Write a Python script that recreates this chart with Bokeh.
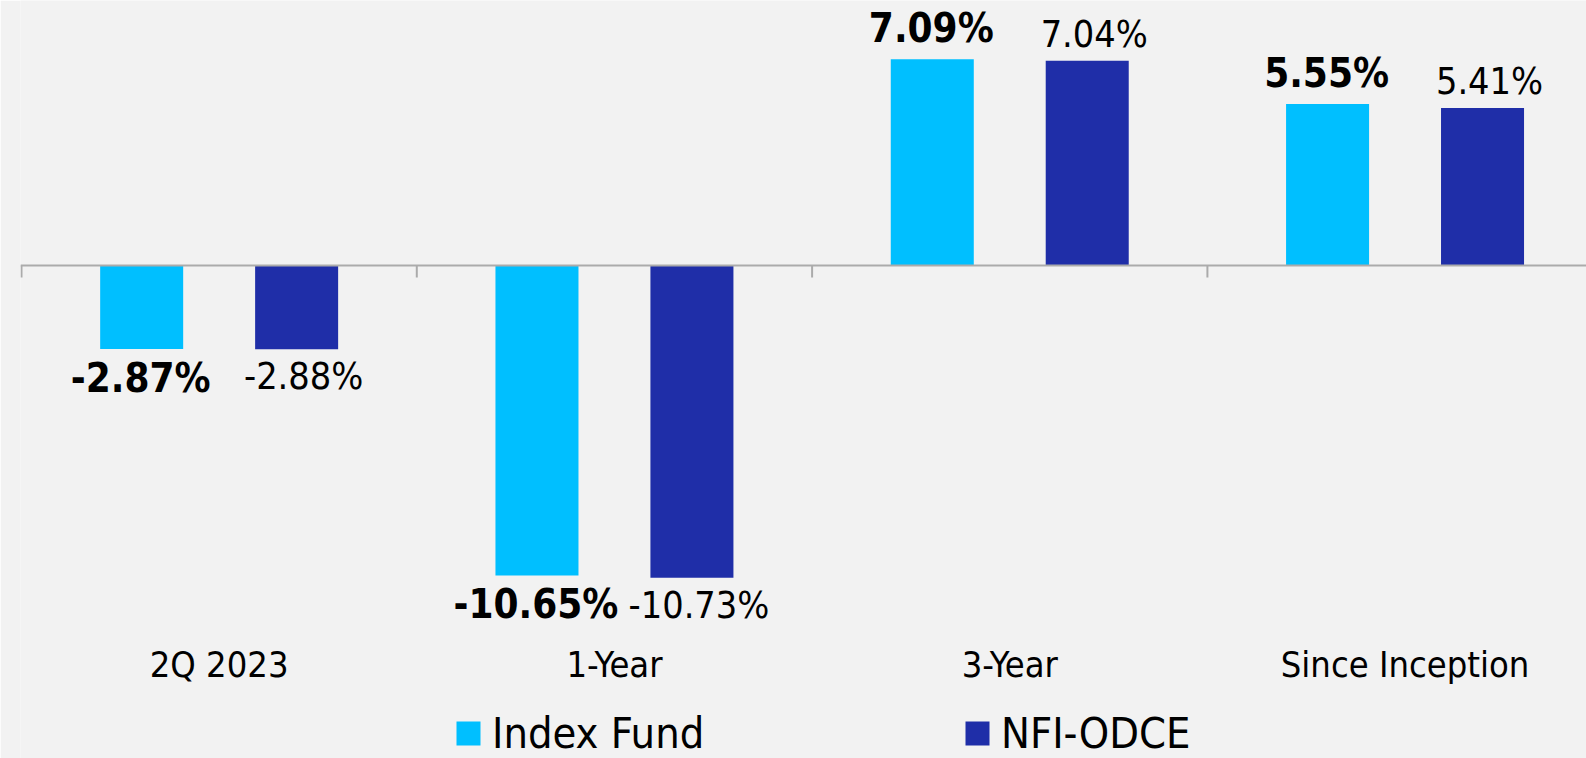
import math
from bokeh.plotting import figure
from bokeh.models import ColumnDataSource, Span, LabelSet, Legend, LegendItem
from bokeh.core.properties import value
from bokeh.embed import file_html
from bokeh.resources import INLINE

# ---- data ----
categories = ["2Q 2023", "1-Year", "3-Year", "Since Inception"]
series_names = ["Index Fund", "NFI-ODCE"]
index_fund = [-2.87, -10.65, 7.09, 5.55]
nfi_odce = [-2.88, -10.73, 7.04, 5.41]

# ---- style ----
BG = "#f2f2f2"
COLORS = ["#00bfff", "#1f2ea8"]
AXIS_COLOR = "#ababab"
FONT = "DejaVu Sans Condensed, DejaVu Sans"

W, H = 1586, 758
LEFT = 20
CAT_PX = 395.3
PX_PER_UNIT = 29.1
ZERO_FROM_TOP = 265

frame_w = W - LEFT
x0 = -1.0 / CAT_PX
x1 = x0 + frame_w / CAT_PX
y1 = ZERO_FROM_TOP / PX_PER_UNIT
y0 = -(H - ZERO_FROM_TOP) / PX_PER_UNIT

p = figure(width=W, height=H, x_range=(x0, x1), y_range=(y0, y1),
           output_backend="svg", toolbar_location=None,
           x_axis_location=None, y_axis_location=None,
           min_border_left=LEFT, min_border_right=0, min_border_top=0, min_border_bottom=0,
           background_fill_color=BG, border_fill_color=BG, outline_line_color=None)
p.grid.visible = False

n = len(categories)
centers = [i + 0.5 for i in range(n)]
OFFSET = 0.196
BAR_W = 0.21
offsets = [-OFFSET, OFFSET]
# (font style, size, offset above positive bar, offset below negative bar, x offset)
label_styles = [("bold", 40, -31, 29, -1), ("normal", 37.5, -27, 27, 7)]

renderers = []
for k, vals in enumerate([index_fund, nfi_odce]):
    style, size, up_off, down_off, xoff = label_styles[k]
    src = ColumnDataSource(dict(
        x=[c + offsets[k] for c in centers],
        top=vals,
        label=[f"{v:.2f}%" for v in vals],
        yoff=[up_off if v >= 0 else down_off for v in vals],
    ))
    r = p.vbar(x="x", top="top", bottom=0, width=BAR_W, source=src,
               fill_color=COLORS[k], line_color=None)
    renderers.append(r)
    p.text(x="x", y="top", text="label", y_offset="yoff", x_offset=xoff, source=src,
           text_align="center", text_baseline="alphabetic",
           text_font=value(FONT), text_font_size=f"{size}px",
           text_font_style=style, text_color="black")

# zero line + category boundary ticks
p.add_layout(Span(location=0, dimension="width", line_color=AXIS_COLOR, line_width=2))
bounds = list(range(n + 1))
p.ray(x=bounds, y=[0] * len(bounds), length=12, length_units="screen",
      angle=-math.pi / 2, line_color=AXIS_COLOR, line_width=2)

# category labels
cat_src = ColumnDataSource(dict(x=centers, cat=categories))
p.add_layout(LabelSet(x="x", y=82, y_units="screen", text="cat", source=cat_src,
                      text_align="center", text_baseline="alphabetic",
                      text_font=value(FONT), text_font_size="36px", text_color="black"))

# legends
LEG_X = [433, 942]
LEG_Y = 0
for k, r in enumerate(renderers):
    leg = Legend(items=[LegendItem(label=series_names[k], renderers=[r])],
                 location=(LEG_X[k], LEG_Y), orientation="horizontal",
                 glyph_width=30, glyph_height=30, label_standoff=9,
                 padding=0, margin=0, border_line_color=None, background_fill_alpha=0,
                 label_text_font=FONT, label_text_font_size="43px", label_height=30,
                 label_text_color="black")
    p.add_layout(leg)

open("out.html", "w").write(file_html(p, INLINE))
